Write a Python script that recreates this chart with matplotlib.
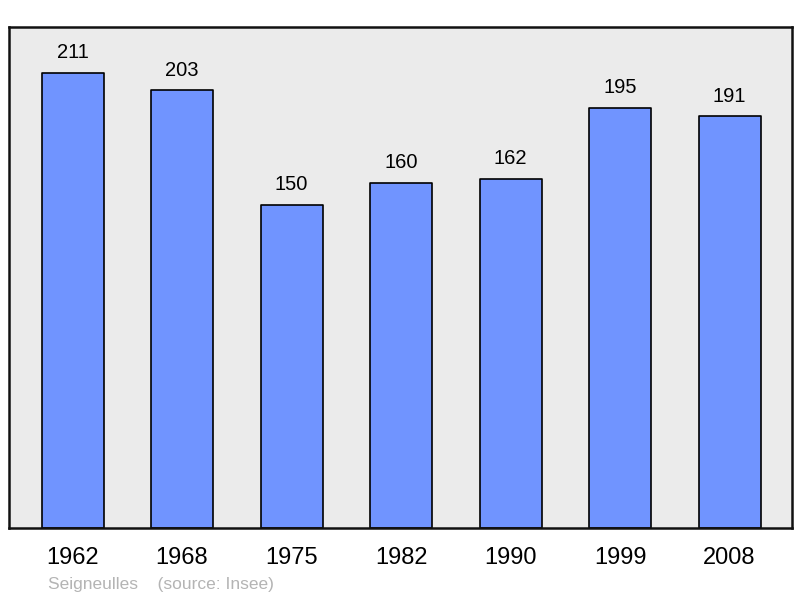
import matplotlib
matplotlib.use('Agg')
import matplotlib.pyplot as plt

plt.rcParams['font.family'] = ['Liberation Sans', 'DejaVu Sans']

years = ['1962', '1968', '1975', '1982', '1990', '1999', '2008']
population = [211, 203, 150, 160, 162, 195, 191]

fig = plt.figure(figsize=(8, 5.98), dpi=100)
ax = fig.add_axes([0.01125, 0.117, 0.97875, 0.8378])
ax.set_facecolor('#ebebeb')

x = range(len(years))
bars = ax.bar(x, population, width=0.566, color='#7094ff', edgecolor='black',
              linewidth=1.2, zorder=2)
for b in bars:
    b.set_joinstyle('round')

for xi, v in zip(x, population):
    ax.text(xi, v + 5, str(v), ha='center', va='bottom', fontsize=14.5)

ax.set_xlim(-0.58, 6.57)
ax.set_ylim(0, 232.4)
ax.set_xticks(list(x))
ax.set_xticklabels(years, fontsize=17)
ax.tick_params(axis='x', length=0, pad=13.5)
ax.set_yticks([])
for s in ax.spines.values():
    s.set_linewidth(1.8)
    s.set_color('#111111')

fig.text(0.06, 0.0234, 'Seigneulles    (source: Insee)', fontsize=12.5,
         color='#b4b4b4', va='center')

fig.savefig('out.png', dpi=100)
